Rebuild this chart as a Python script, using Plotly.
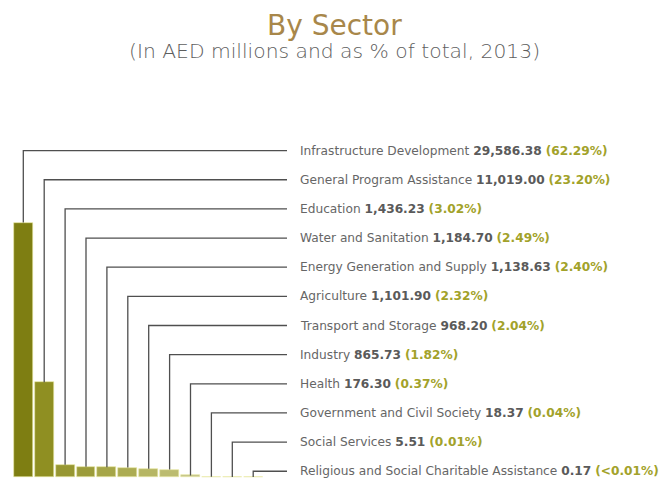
import plotly.graph_objects as go

# ---------------- data ----------------
sectors = [
    "Infrastructure Development",
    "General Program Assistance",
    "Education",
    "Water and Sanitation",
    "Energy Generation and Supply",
    "Agriculture",
    "Transport and Storage",
    "Industry",
    "Health",
    "Government and Civil Society",
    "Social Services",
    "Religious and Social Charitable Assistance",
]
values = [29586.38, 11019.00, 1436.23, 1184.70, 1138.63, 1101.90,
          968.20, 865.73, 176.30, 18.37, 5.51, 0.17]
value_labels = ["29,586.38", "11,019.00", "1,436.23", "1,184.70", "1,138.63", "1,101.90",
                "968.20", "865.73", "176.30", "18.37", "5.51", "0.17"]
pct_labels = ["62.29%", "23.20%", "3.02%", "2.49%", "2.40%", "2.32%",
              "2.04%", "1.82%", "0.37%", "0.04%", "0.01%", "<0.01%"]

bar_colors = ["#7e7e12", "#8f8f22", "#979732", "#9c9c3a", "#a6a648", "#acac52",
              "#b6b664", "#bcbc70", "#c4c488", "#c8c890", "#cccc98", "#d0d0a0"]

# ---------------- layout helpers ----------------
W, H = 669, 480
X0_PX, X_STEP_PX = 23.3, 20.9
x_range = [-X0_PX / X_STEP_PX, (W - X0_PX) / X_STEP_PX]
BASE_PX, UNITS_PER_PX = 477.0, 116.3
y_top = BASE_PX * UNITS_PER_PX
y_range = [y_top - H * UNITS_PER_PX, y_top]


def px_to_x(px):
    return (px - X0_PX) / X_STEP_PX


def px_to_y(py):
    return y_top - py * UNITS_PER_PX


ROW0_PX, ROW_STEP_PX = 150.6, 29.15
LINE_END_PX = 287
TEXT_X_PX = 298

fig = go.Figure()

n = len(sectors)
xs = list(range(n))

fig.add_trace(go.Bar(
    x=xs, y=values, width=0.9,
    marker=dict(color=bar_colors, line=dict(color="#e8e8a0", width=0.6)),
    hoverinfo="skip", showlegend=False,
))

for i in range(n):
    level = px_to_y(ROW0_PX + ROW_STEP_PX * i)
    fig.add_trace(go.Scatter(
        x=[i, i, px_to_x(LINE_END_PX)],
        y=[values[i], level, level],
        mode="lines",
        line=dict(color="#4f4f4f", width=1.3),
        hoverinfo="skip", showlegend=False,
    ))
    fig.add_annotation(
        x=px_to_x(TEXT_X_PX), y=level, xref="x", yref="y",
        xanchor="left", yanchor="middle", showarrow=False,
        text=(f"<span style='color:#666666'>{sectors[i]}</span> "
              f"<span style='color:#5a5a5a'><b>{value_labels[i]}</b></span> "
              f"<span style='color:#a2a22a'><b>({pct_labels[i].replace('<', '&lt;')})</b></span>"),
        font=dict(family="DejaVu Sans", size=12.2, color="#666666"),
    )

fig.add_annotation(
    x=0.5, y=1 - 25 / H, xref="paper", yref="paper", xanchor="center", yanchor="middle",
    showarrow=False, text="By Sector",
    font=dict(family="DejaVu Sans", size=28, color="#a8874a"),
)
fig.add_annotation(
    x=0.5, y=1 - 51 / H, xref="paper", yref="paper", xanchor="center", yanchor="middle",
    showarrow=False, text="(In AED millions and as % of total, 2013)",
    font=dict(family="DejaVu Sans", size=20.3, color="#5e5e5e", weight=300),
)

fig.update_layout(
    width=W, height=H,
    margin=dict(l=0, r=0, t=0, b=0),
    paper_bgcolor="white", plot_bgcolor="white",
    bargap=0,
    xaxis=dict(range=x_range, visible=False, fixedrange=True),
    yaxis=dict(range=y_range, visible=False, fixedrange=True),
)

fig.write_html("out.html")
